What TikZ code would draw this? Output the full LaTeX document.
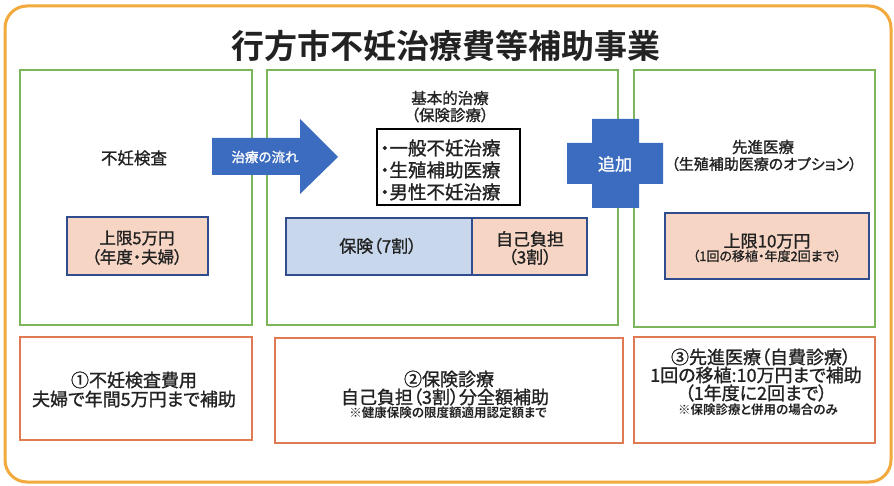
\documentclass[tikz,border=0pt]{standalone}
\usepackage{fontspec}
\setmainfont{Noto Sans CJK JP}[RawFeature={+palt}, FakeBold=1.2]
\newfontfamily\jpt{Noto Sans CJK JP Bold}[RawFeature={+palt}]
\definecolor{outerorange}{HTML}{F2AA3C}
\definecolor{grn}{HTML}{7DB55A}
\definecolor{salmon}{HTML}{E07A52}
\definecolor{flowblue}{HTML}{3C6CC0}
\definecolor{pinkfill}{HTML}{F6D5C5}
\definecolor{bluefill}{HTML}{C8D7EC}
\definecolor{navy}{HTML}{2F4C8C}
\definecolor{txt}{HTML}{222222}
\tikzset{
  gbox/.style={draw=grn, line width=1.8pt},
  obox/.style={draw=salmon, line width=1.8pt},
  pbox/.style={draw=navy, fill=pinkfill, line width=1.8pt},
  bbox/.style={draw=navy, fill=bluefill, line width=1.8pt},
  lbl/.style={text=txt, inner sep=0pt, anchor=center},
  fs/.style={font=\fontsize{#1}{#1}\selectfont},
  fsb/.style={font=\jpt\fontsize{#1}{#1}\selectfont}
}
\begin{document}
\begin{tikzpicture}[x=1pt,y=-1pt]
\useasboundingbox (0,0) rectangle (894,486);
\fill[white] (0,0) rectangle (894,486);
% outer frame
\draw[outerorange, line width=3pt, rounded corners=22pt] (5,6) rectangle (891,482);
% title
\node[lbl, fsb=33] (title) at (446,46) {行方市不妊治療費等補助事業};
% green boxes
\draw[gbox] (20,70) rectangle (252,325);
\draw[gbox] (267,70) rectangle (618,325);
\draw[gbox] (634,70) rectangle (875,327);
% flow arrow
\fill[flowblue] (212,138) -- (300,138) -- (300,119) -- (338,157) -- (300,194) -- (300,175) -- (212,175) -- cycle;
\node[lbl, text=white, fs=13.5] (flow) at (265,157) {治療の流れ};
% plus sign
\fill[flowblue] (592,119) -- (639,119) -- (639,143) -- (663,143) -- (663,184) -- (639,184) -- (639,208) -- (592,208) -- (592,184) -- (567,184) -- (567,143) -- (592,143) -- cycle;
\node[lbl, text=white, fs=17] (add) at (615,164) {追加};
% left panel
\node[lbl, fs=16.5] (exam) at (134,158) {不妊検査};
\draw[pbox] (67,217) rectangle (208,275);
\node[lbl, fs=16.5] (lim5a) at (137,238) {上限5万円};
\node[lbl, fs=16.5] (lim5b) at (137,257) {（年度・夫婦）};
% middle panel
\node[lbl, fs=15.5] (basic1) at (450,98) {基本的治療};
\node[lbl, fs=15.5] (basic2) at (450,115) {（保険診療）};
\draw[draw=black, line width=1.2pt, fill=white] (377,129) rectangle (520,205);
\node[lbl, fs=18.5, anchor=west] (li1) at (380,148) {・一般不妊治療};
\node[lbl, fs=18.5, anchor=west] (li2) at (380,170) {・生殖補助医療};
\node[lbl, fs=18.5, anchor=west] (li3) at (380,192) {・男性不妊治療};
\draw[bbox] (286,218) rectangle (472,275);
\draw[pbox] (472,218) rectangle (587,275);
\node[lbl, fs=17] (ins) at (378,246) {保険（7割）};
\node[lbl, fs=17] (self1) at (530,239) {自己負担};
\node[lbl, fs=17] (self2) at (530,257) {（3割）};
% right panel
\node[lbl, fs=15.5] (adv1) at (763,147) {先進医療};
\node[lbl, fs=15] (adv2) at (764,164) {（生殖補助医療のオプション）};
\draw[pbox] (665,213) rectangle (869,279);
\node[lbl, fs=17] (lim10a) at (767,241) {上限10万円};
\node[lbl, fs=13] (lim10b) at (767,256) {（1回の移植・年度2回まで）};
% bottom boxes
\draw[obox] (20,337) rectangle (252,440);
\draw[obox] (275,338) rectangle (623,443);
\draw[obox] (634,337) rectangle (875,443);
\node[lbl, fs=18] (b1a) at (134,380) {①不妊検査費用};
\node[lbl, fs=18] (b1b) at (134,399) {夫婦で年間5万円まで補助};
\node[lbl, fs=18] (b2a) at (449,379) {②保険診療};
\node[lbl, fs=18] (b2b) at (445,397) {自己負担（3割）分全額補助};
\node[lbl, fsb=12.5] (b2c) at (448,413) {※健康保険の限度額適用認定額まで};
\node[lbl, fs=18] (b3a) at (761,357) {③先進医療（自費診療）};
\node[lbl, fs=18] (b3b) at (756,375) {1回の移植:10万円まで補助};
\node[lbl, fs=18] (b3c) at (756,393) {（1年度に2回まで）};
\node[lbl, fsb=12.5] (b3d) at (758,410) {※保険診療と併用の場合のみ};
\end{tikzpicture}
\end{document}
